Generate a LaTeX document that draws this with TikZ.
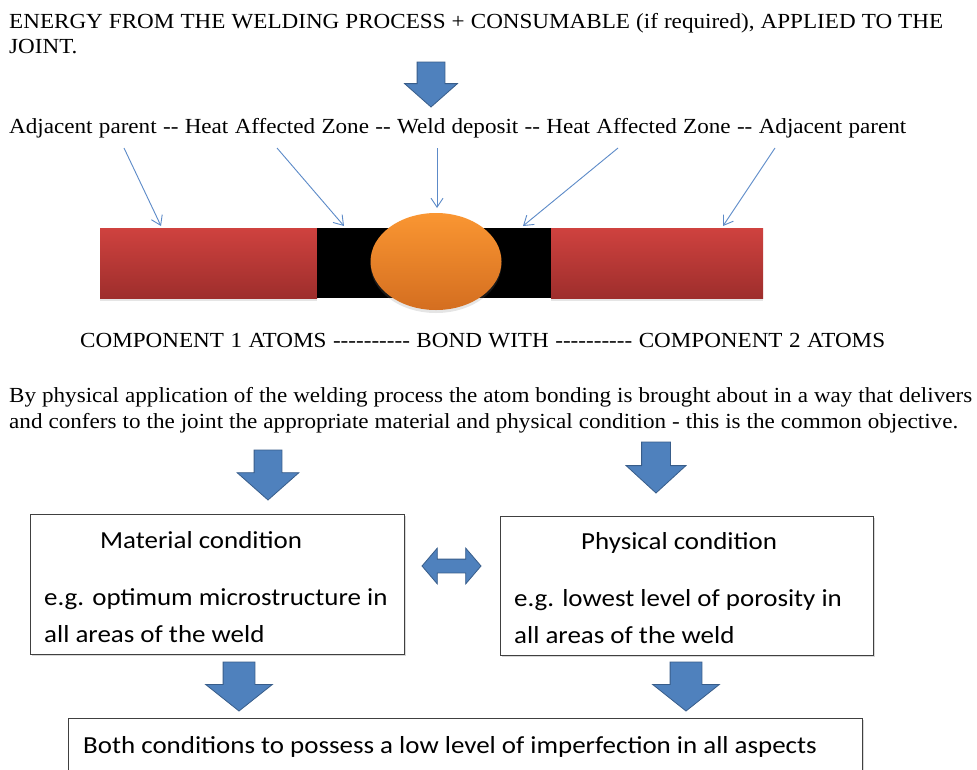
\documentclass[tikz,border=0pt]{standalone}
\usepackage{fontspec}
\setmainfont{Liberation Serif}[FakeStretch=1.075,Ligatures=TeXOff]
\newfontfamily\boxfont{Carlito}[FakeStretch=1.1]
\usetikzlibrary{arrows.meta,shapes.geometric,shapes.arrows,shadows}
\definecolor{OfficeBlue}{RGB}{79,129,189}
\definecolor{OfficeBlueDark}{RGB}{56,93,138}
\definecolor{PointerBlue}{RGB}{92,138,200}
\definecolor{ParentTop}{RGB}{207,66,63}
\definecolor{ParentBottom}{RGB}{158,46,44}
\definecolor{WeldTop}{RGB}{250,150,50}
\definecolor{WeldBottom}{RGB}{212,110,32}
\definecolor{BoxLine}{RGB}{64,64,64}
\tikzset{
  plain/.style={inner sep=0pt,anchor=base west,font=\fontsize{21.5}{24}\selectfont},
  boxtext/.style={inner sep=0pt,anchor=base west,font=\boxfont\fontsize{24.5}{28}\selectfont},
  pointer/.style={-{Straight Barb[length=9pt,width=12pt]},draw=PointerBlue,line width=0.9pt},
  parent/.style={rectangle,minimum height=70pt,inner sep=0pt,
    top color=ParentTop,bottom color=ParentBottom,
    drop shadow={shadow xshift=0pt,shadow yshift=-3pt,opacity=0.2}},
  haz/.style={rectangle,minimum height=70pt,inner sep=0pt,fill=black},
  weld/.style={ellipse,minimum width=131pt,minimum height=97pt,inner sep=0pt,
    top color=WeldTop,bottom color=WeldBottom,
    drop shadow={shadow xshift=0pt,shadow yshift=-3pt,opacity=0.2}},
  blockdown/.style n args={4}{single arrow,rotate=-90,anchor=tip,outer sep=0pt,
    inner xsep=0pt,minimum width=1pt,minimum height=#1,inner ysep=#2,
    single arrow head extend=#3,single arrow tip angle=#4,
    fill=OfficeBlue,draw=OfficeBlueDark,line width=0.8pt},
  twoway/.style={double arrow,outer sep=0pt,inner xsep=0pt,minimum width=1pt,
    minimum height=59pt,inner ysep=6.5pt,double arrow head extend=11pt,
    double arrow tip angle=99,fill=OfficeBlue,draw=OfficeBlueDark,line width=0.8pt},
  condbox/.style={rectangle,draw=BoxLine,line width=1pt,fill=white,
    drop shadow={shadow xshift=1.5pt,shadow yshift=-1.5pt,opacity=0.3}}
}

\begin{document}
\begin{tikzpicture}[x=1pt,y=-1pt]
  \path[use as bounding box,clip] (0,0) rectangle (977,769);
  \fill[white] (0,0) rectangle (977,769);

  % energy input
  \node[plain] (energy) at (9,28)
    {\makebox[934pt][s]{ENERGY FROM THE WELDING PROCESS + CONSUMABLE (if required), APPLIED TO THE}};
  \node[plain] (joint) at (9,53) {JOINT.};
  \node[blockdown={45pt}{13.5pt}{12.5pt}{97}] (applied) at (431,107) {};

  % zones
  \node[plain] (zones) at (9,133)
    {\makebox[897pt][s]{Adjacent parent -- Heat Affected Zone -- Weld deposit -- Heat Affected Zone -- Adjacent parent}};

  \node[parent,minimum width=217pt] (leftparent) at (208.5,263) {};
  \node[parent,minimum width=212pt] (rightparent) at (657,263) {};
  \node[haz,minimum width=234pt] (haz) at (434,263) {};
  \node[weld] (deposit) at (436,261.5) {};

  \coordinate (from1) at (124,148);
  \coordinate (from2) at (277,148);
  \coordinate (from3) at (437,148);
  \coordinate (from4) at (618,148);
  \coordinate (from5) at (775,148);
  \coordinate (to1) at (161,226);
  \coordinate (to2) at (344,226);
  \coordinate (to3) at (437,208);
  \coordinate (to4) at (523,226);
  \coordinate (to5) at (723,226);
  \draw[pointer] (from1) -- (to1);
  \draw[pointer] (from2) -- (to2);
  \draw[pointer] (from3) -- (to3);
  \draw[pointer] (from4) -- (to4);
  \draw[pointer] (from5) -- (to5);

  \node[plain] (bond) at (80,347)
    {\makebox[805pt][s]{COMPONENT 1 ATOMS ---------- BOND WITH ---------- COMPONENT 2 ATOMS}};

  % objective
  \node[plain] (objective1) at (9,402)
    {\makebox[963pt][s]{By physical application of the welding process the atom bonding is brought about in a way that delivers}};
  \node[plain] (objective2) at (9,428)
    {\makebox[949pt][s]{and confers to the joint the appropriate material and physical condition - this is the common objective.}};

  \node[blockdown={50pt}{13.5pt}{17pt}{97}] (tomaterial) at (268,500) {};
  \node[blockdown={51pt}{14pt}{15.5pt}{95}] (tophysical) at (656,493) {};

  % the two conditions
  \node[condbox,minimum width=374pt,minimum height=140pt] (matbox) at (217,584) {};
  \node[condbox,minimum width=373pt,minimum height=139pt] (phybox) at (686.5,585.5) {};
  \node[boxtext] (mattitle) at (100,548) {Material condition};
  \node[boxtext] (matline1) at (44,605) {e.g. optimum microstructure in};
  \node[boxtext] (matline2) at (44,642) {all areas of the weld};
  \node[boxtext] (phytitle) at (581,549) {Physical condition};
  \node[boxtext] (phyline1) at (514,606) {e.g. lowest level of porosity in};
  \node[boxtext] (phyline2) at (514,643) {all areas of the weld};
  \node[twoway] (link) at (451.5,566) {};

  \node[blockdown={49pt}{15.5pt}{17.5pt}{103}] (fromMaterial) at (239,711) {};
  \node[blockdown={49pt}{15.5pt}{17.5pt}{103}] (fromPhysical) at (686,711) {};

  % common result
  \node[condbox,minimum width=794pt,minimum height=100pt] (bothbox) at (465,768) {};
  \node[boxtext] (both) at (83,753) {Both conditions to possess a low level of imperfection in all aspects};
\end{tikzpicture}
\end{document}
